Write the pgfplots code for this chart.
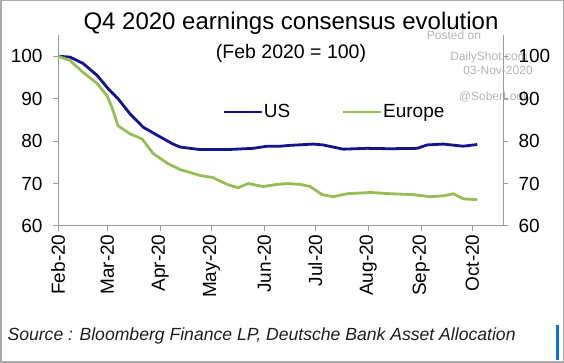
\documentclass[border=0pt]{standalone}
\usepackage{fontspec}
\setmainfont{Liberation Sans}
\usepackage{pgfplots}
\pgfplotsset{compat=1.18}
\definecolor{usblue}{RGB}{20,20,140}
\definecolor{eugreen}{RGB}{150,190,85}
\definecolor{axgray}{RGB}{155,155,155}
\definecolor{wm}{RGB}{180,180,180}
\begin{document}
\begin{tikzpicture}[x=1pt,y=1pt]
\useasboundingbox (0,0) rectangle (564,363);
\fill[white] (0,0) rectangle (564,363);
\draw[color={rgb,255:red,170;green,170;blue,170},line width=1.5pt] (0.75,0.75) rectangle (563.25,362.25);
\node[font=\fontsize{12}{14}\selectfont, text=wm] at (454,328) {Posted on};
\node[font=\fontsize{12}{14}\selectfont, text=wm] at (489,306) {DailyShot.com};
\node[font=\fontsize{12}{14}\selectfont, text=wm] at (498,293) {03-Nov-2020};
\node[font=\fontsize{12}{14}\selectfont, text=wm] at (494,266) {@SoberLook};
\pgfplotsset{
  common/.style={
    scale only axis, width=445pt, height=191pt,
    at={(58pt,137pt)}, anchor=south west,
    xmin=0, xmax=261, ymin=60, ymax=105,
    ytick={60,70,80,90,100},
    tick align=outside, major tick length=5pt,
    axis line style={axgray, line width=1pt},
    tick style={axgray, line width=1pt},
    ticklabel style={font=\fontsize{19}{21}\selectfont, text=black},
    /pgf/number format/assume math mode=true,
  }
}
\begin{axis}[common,
  axis x line*=bottom, axis y line*=left,
  xtick={0,29,60,90,121,151,182,213,243},
  xticklabels={Feb-20,Mar-20,Apr-20,May-20,Jun-20,Jul-20,Aug-20,Sep-20,Oct-20},
  xticklabel style={rotate=90, anchor=east},
  yticklabel style={xshift=-7pt},
  legend columns=2,
  legend style={at={(0.3685,0.597)}, anchor=west, draw=none, fill=none,
    font=\fontsize{19}{21}\selectfont, inner sep=0pt,
    nodes={inner sep=1pt},
    /tikz/every even column/.append style={column sep=50pt}},
  legend image code/.code={\draw[#1] (0pt,0pt) -- (38pt,0pt);},
]
\addplot[usblue, line width=2.8pt, line join=round] coordinates {
(0,100) (7,99.8) (14.7,98.3) (22.9,95.5) (29.3,92.4) (35.2,90) (42.3,86.4)
(49.9,83.3) (58.1,81.4) (67.5,79.3) (71.6,78.6) (83.3,78) (99.2,78)
(114.4,78.3) (122.7,78.8) (130.3,78.8) (136.2,79) (149.6,79.3) (155.5,79.1)
(167.3,78.1) (181.3,78.3) (194.8,78.2) (210.7,78.3) (216.5,79.1) (225.9,79.3)
(237.7,78.8) (245.9,79.2)
};
\addlegendentry{US}
\addplot[eugreen, line width=2.8pt, line join=round] coordinates {
(0,100) (7,99) (14.7,96.2) (22.9,93.6) (28.7,90.7) (31.7,87.9) (35.2,83.6)
(42.3,81.7) (49.3,80.5) (55.8,77.1) (64,74.8) (71.6,73.3) (83.3,71.9)
(91,71.4) (99.2,69.8) (105.6,69) (111.5,70) (120.3,69.3) (128.5,69.8)
(134.4,70) (142,69.8) (147.9,69.3) (154.9,67.4) (161.4,66.9) (169.6,67.6)
(183.1,67.9) (194.8,67.6) (208.3,67.4) (218.3,66.9) (225.9,67.1) (231.8,67.6)
(237.7,66.4) (245.9,66.2)
};
\addlegendentry{Europe}
\end{axis}
\begin{axis}[common,
  axis y line*=right, hide x axis,
  yticklabel style={xshift=7pt},
]
\end{axis}
\node[font=\fontsize{24}{26}\selectfont] at (291,340) {Q4 2020 earnings consensus evolution};
\node[font=\fontsize{19.5}{21}\selectfont] at (291,310) {(Feb 2020 = 100)};
\node[font=\fontsize{17.6}{19}\selectfont\itshape, text={rgb,255:red,30;green,30;blue,30}, anchor=west] at (4,27) {Source : Bloomberg Finance LP, Deutsche Bank Asset Allocation};
\fill[color={rgb,255:red,0;green,120;blue,215}] (555.5,3) rectangle (558.5,38);
\end{tikzpicture}
\end{document}
